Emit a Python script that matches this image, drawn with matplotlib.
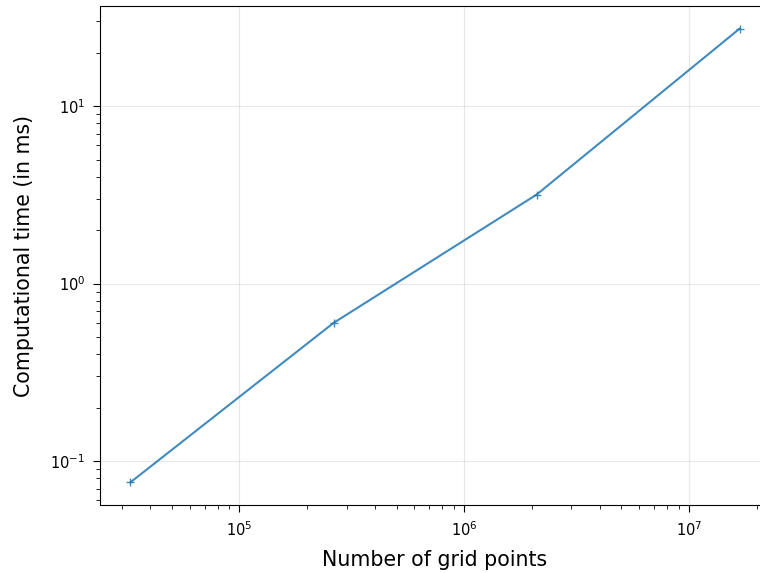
import matplotlib
matplotlib.use("Agg")
import matplotlib.pyplot as plt

grid_points = [32**3, 64**3, 128**3, 256**3]
times_ms = [0.0759, 0.600, 3.17, 27.3]

fig = plt.figure(figsize=(7.6, 5.73), dpi=100)
# axes run past the right edge, as in the cropped original
ax = fig.add_axes([0.1316, 0.1187, 0.8816, 0.8708])
ax.loglog(grid_points, times_ms, marker="+", color="#1f77b4", alpha=0.85)
ax.grid(True, alpha=0.3)
ax.tick_params(which="major", length=5.2, pad=5.5, labelsize=10.5)
ax.tick_params(which="minor", length=3.0)
ax.set_xlabel("Number of grid points", fontsize=14.8, labelpad=8.5)
ax.set_ylabel("Computational time (in ms)", fontsize=14.8, labelpad=12)
fig.savefig("out.png")
